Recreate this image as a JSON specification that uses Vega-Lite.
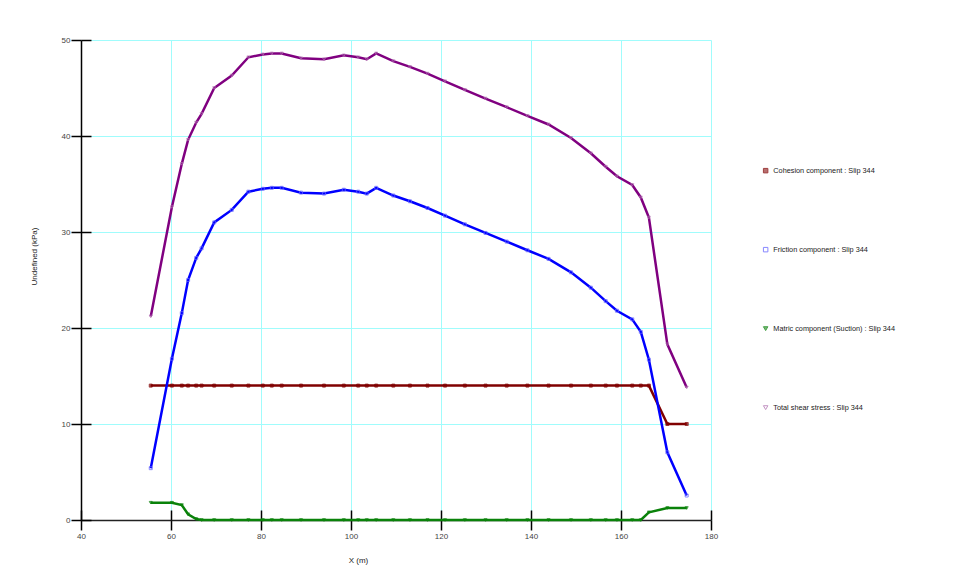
{
  "$schema": "https://vega.github.io/schema/vega-lite/v6.json",
  "width": 630,
  "height": 480,
  "autosize": {"type": "none"},
  "padding": {"left": 81, "top": 40, "right": 264, "bottom": 64},
  "background": "white",
  "config": {
    "view": {"stroke": null},
    "font": "Liberation Sans",
    "legend": {
      "orient": "none", "legendX": 681, "legendY": 127,
      "rowPadding": 70, "labelFont": "Liberation Sans", "labelFontSize": 7.3, "labelColor": "#222",
      "symbolSize": 20, "symbolStrokeWidth": 1, "labelOffset": 4
    }
  },
  "data": {
    "values": [
      {"x": 55.5, "c": 14, "f": 5.4, "m": 1.8, "t": 21.2},
      {"x": 60.2, "c": 14, "f": 16.8, "m": 1.8, "t": 32.6},
      {"x": 62.4, "c": 14, "f": 21.55, "m": 1.55, "t": 37.1},
      {"x": 63.8, "c": 14, "f": 25.0, "m": 0.6, "t": 39.6},
      {"x": 65.6, "c": 14, "f": 27.3, "m": 0.1, "t": 41.4},
      {"x": 66.8, "c": 14, "f": 28.3, "m": 0, "t": 42.3},
      {"x": 69.6, "c": 14, "f": 31.0, "m": 0, "t": 45.0},
      {"x": 73.5, "c": 14, "f": 32.3, "m": 0, "t": 46.3},
      {"x": 77.2, "c": 14, "f": 34.2, "m": 0, "t": 48.2},
      {"x": 80.4, "c": 14, "f": 34.5, "m": 0, "t": 48.5},
      {"x": 82.4, "c": 14, "f": 34.6, "m": 0, "t": 48.6},
      {"x": 84.6, "c": 14, "f": 34.6, "m": 0, "t": 48.6},
      {"x": 88.9, "c": 14, "f": 34.1, "m": 0, "t": 48.1},
      {"x": 94.0, "c": 14, "f": 34.0, "m": 0, "t": 48.0},
      {"x": 98.4, "c": 14, "f": 34.4, "m": 0, "t": 48.4},
      {"x": 101.6, "c": 14, "f": 34.2, "m": 0, "t": 48.2},
      {"x": 103.5, "c": 14, "f": 34.0, "m": 0, "t": 48.0},
      {"x": 105.6, "c": 14, "f": 34.6, "m": 0, "t": 48.6},
      {"x": 109.4, "c": 14, "f": 33.8, "m": 0, "t": 47.8},
      {"x": 113.1, "c": 14, "f": 33.2, "m": 0, "t": 47.2},
      {"x": 117.0, "c": 14, "f": 32.5, "m": 0, "t": 46.5},
      {"x": 120.9, "c": 14, "f": 31.7, "m": 0, "t": 45.7},
      {"x": 125.3, "c": 14, "f": 30.8, "m": 0, "t": 44.8},
      {"x": 129.9, "c": 14, "f": 29.9, "m": 0, "t": 43.9},
      {"x": 134.6, "c": 14, "f": 29.0, "m": 0, "t": 43.0},
      {"x": 139.2, "c": 14, "f": 28.1, "m": 0, "t": 42.1},
      {"x": 143.9, "c": 14, "f": 27.2, "m": 0, "t": 41.2},
      {"x": 148.9, "c": 14, "f": 25.8, "m": 0, "t": 39.8},
      {"x": 153.3, "c": 14, "f": 24.2, "m": 0, "t": 38.2},
      {"x": 156.6, "c": 14, "f": 22.8, "m": 0, "t": 36.8},
      {"x": 159.1, "c": 14, "f": 21.8, "m": 0, "t": 35.8},
      {"x": 162.5, "c": 14, "f": 20.9, "m": 0, "t": 34.9},
      {"x": 164.4, "c": 14, "f": 19.6, "m": 0, "t": 33.6},
      {"x": 166.2, "c": 14, "f": 16.7, "m": 0.8, "t": 31.5},
      {"x": 170.3, "c": 10, "f": 7.05, "m": 1.25, "t": 18.3},
      {"x": 174.6, "c": 10, "f": 2.55, "m": 1.25, "t": 13.8}
    ]
  },
  "transform": [{"fold": ["c", "f", "m", "t"], "as": ["series", "value"]}],
  "layer": [
    {
      "mark": {"type": "line", "strokeWidth": 2.5},
      "encoding": {
        "x": {
          "field": "x", "type": "quantitative",
          "scale": {"domain": [40, 180], "nice": false, "zero": false},
          "axis": {
            "orient": "bottom",
            "values": [40, 60, 80, 100, 120, 140, 160, 180],
            "grid": true, "gridColor": "#a0fcfc", "gridOpacity": 1, "gridWidth": 1,
            "domainColor": "#222", "domainWidth": 1.5,
            "tickColor": "#000", "tickSize": 10, "tickWidth": 1.5,
            "labelFont": "Liberation Sans", "labelFontSize": 8, "labelColor": "#444", "labelPadding": 2, "labelFlush": false,
            "title": "X (m)", "titleFont": "Liberation Sans", "titleFontSize": 8, "titleFontWeight": "normal",
            "titleColor": "#222", "titleX": 277, "titleY": 40, "titleAlign": "center", "titleBaseline": "middle"
          }
        },
        "y": {
          "field": "value", "type": "quantitative",
          "scale": {"domain": [0, 50], "nice": false},
          "axis": {
            "orient": "left",
            "values": [0, 10, 20, 30, 40, 50],
            "grid": true, "gridColor": "#a0fcfc", "gridOpacity": 1, "gridWidth": 1,
            "domainColor": "#000", "domainWidth": 1.5,
            "tickColor": "#000", "tickSize": 10, "tickWidth": 1.5,
            "labelFont": "Liberation Sans", "labelFontSize": 8, "labelColor": "#444", "labelPadding": 1, "labelFlush": false,
            "title": "Undefined (kPa)", "titleFont": "Liberation Sans", "titleFontSize": 8, "titleFontWeight": "normal",
            "titleColor": "#222", "titleX": -47, "titleY": 216, "titleAngle": -90, "titleAlign": "center", "titleBaseline": "middle"
          }
        },
        "color": {
          "field": "series", "type": "nominal",
          "scale": {"domain": ["c", "f", "m", "t"], "range": ["#800000", "#0000ff", "#0a820a", "#800080"]},
          "legend": null
        }
      }
    },
    {
      "mark": {"type": "point", "size": 9, "strokeWidth": 1, "opacity": 0.75},
      "encoding": {
        "x": {
          "field": "x", "type": "quantitative",
          "axis": {
            "orient": "bottom", "offset": -10, "values": [40, 60, 80, 100, 120, 140, 160, 180],
            "domain": false, "labels": false, "grid": false, "title": null,
            "tickColor": "#000", "tickSize": 10, "tickWidth": 1.5
          }
        },
        "y": {
          "field": "value", "type": "quantitative",
          "axis": {
            "orient": "left", "offset": -10, "values": [0, 10, 20, 30, 40, 50],
            "domain": false, "labels": false, "grid": false, "title": null,
            "tickColor": "#000", "tickSize": 10, "tickWidth": 1.5
          }
        },
        "shape": {
          "field": "series", "type": "nominal",
          "scale": {"domain": ["c", "f", "m", "t"], "range": ["square", "square", "triangle-down", "triangle-down"]},
          "legend": {
            "title": null,
            "labelExpr": "datum.label == 'c' ? 'Cohesion component : Slip 344' : datum.label == 'f' ? 'Friction component : Slip 344' : datum.label == 'm' ? 'Matric component (Suction) : Slip 344' : 'Total shear stress : Slip 344'"
          }
        },
        "stroke": {
          "field": "series", "type": "nominal",
          "scale": {"domain": ["c", "f", "m", "t"], "range": ["#800000", "#6060ff", "#0a820a", "#b070b0"]},
          "legend": {
            "title": null,
            "labelExpr": "datum.label == 'c' ? 'Cohesion component : Slip 344' : datum.label == 'f' ? 'Friction component : Slip 344' : datum.label == 'm' ? 'Matric component (Suction) : Slip 344' : 'Total shear stress : Slip 344'"
          }
        },
        "fill": {
          "field": "series", "type": "nominal",
          "scale": {"domain": ["c", "f", "m", "t"], "range": ["#800000", "transparent", "#0a820a", "transparent"]},
          "legend": {
            "title": null,
            "labelExpr": "datum.label == 'c' ? 'Cohesion component : Slip 344' : datum.label == 'f' ? 'Friction component : Slip 344' : datum.label == 'm' ? 'Matric component (Suction) : Slip 344' : 'Total shear stress : Slip 344'"
          }
        }
      }
    }
  ],
  "resolve": {"axis": {"x": "independent", "y": "independent"}, "legend": {"shape": "independent", "stroke": "independent", "fill": "independent", "color": "independent"}}
}
